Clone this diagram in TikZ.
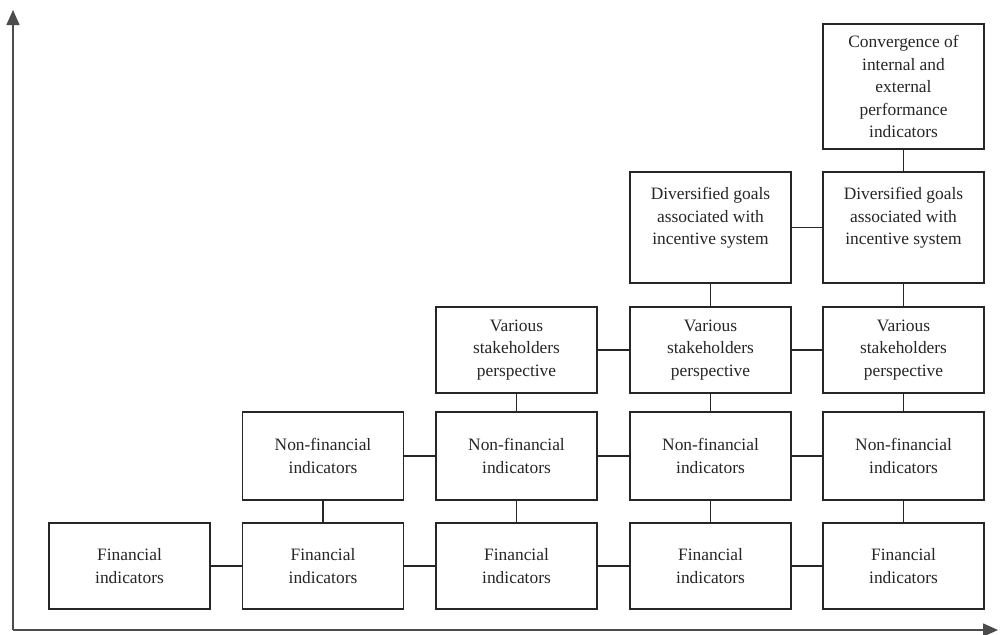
\documentclass[tikz,border=0pt]{standalone}
\usepackage{fontspec}
\setmainfont{Liberation Serif}
\usetikzlibrary{arrows.meta}
\begin{document}
\begin{tikzpicture}[x=0.5pt,y=-0.5pt,
  box/.style={draw=black!85,line width=0.8pt,fill=white,align=center,minimum width=80.5pt,inner sep=0pt,
    font=\fontsize{8.7}{11.25}\selectfont,text=black!85},
  fin/.style={box,minimum height=43pt},
  nfin/.style={box,minimum height=44pt},
  var/.style={box,minimum height=43pt},
  div/.style={box,minimum height=55.5pt},
  conv/.style={box,minimum height=62.5pt},
  link/.style={draw=black!85,line width=0.8pt},
  axis/.style={draw=black!70,line width=0.8pt,-{Triangle[length=7.5pt,width=6.5pt]}}]
\useasboundingbox (0,0) rectangle (1000,634);
% axes
\coordinate (o) at (13,630);
\coordinate (ytop) at (13,10);
\coordinate (xend) at (998,630);
\draw[axis] (o) -- (ytop);
\draw[axis] (o) -- (xend);
% row 1
\node[fin] (f1) at (129.5,566) {Financial\\indicators};
\node[fin] (f2) at (323,566) {Financial\\indicators};
\node[fin] (f3) at (516.5,566) {Financial\\indicators};
\node[fin] (f4) at (710.5,566) {Financial\\indicators};
\node[fin] (f5) at (903.5,566) {Financial\\indicators};
% row 2
\node[nfin] (n2) at (323,456) {Non-financial\\indicators};
\node[nfin] (n3) at (516.5,456) {Non-financial\\indicators};
\node[nfin] (n4) at (710.5,456) {Non-financial\\indicators};
\node[nfin] (n5) at (903.5,456) {Non-financial\\indicators};
% row 3
\node[var] (v3) at (516.5,350) {Various\\stakeholders\\perspective};
\node[var] (v4) at (710.5,350) {Various\\stakeholders\\perspective};
\node[var] (v5) at (903.5,350) {Various\\stakeholders\\perspective};
% row 4
\node[div] (d4) at (710.5,227.5) {Diversified goals\\associated with\\incentive system\\~};
\node[div] (d5) at (903.5,227.5) {Diversified goals\\associated with\\incentive system\\~};
% row 5
\node[conv] (c5) at (903.5,86.5) {Convergence of\\internal and\\external\\performance\\indicators};
% horizontal links
\draw[link] (f1) -- (f2);
\draw[link] (f2) -- (f3);
\draw[link] (f3) -- (f4);
\draw[link] (f4) -- (f5);
\draw[link] (n2) -- (n3);
\draw[link] (n3) -- (n4);
\draw[link] (n4) -- (n5);
\draw[link] (v3) -- (v4);
\draw[link] (v4) -- (v5);
\draw[link] (d4) -- (d5);
% vertical links
\draw[link] (f2) -- (n2);
\draw[link] (f3) -- (n3);
\draw[link] (n3) -- (v3);
\draw[link] (f4) -- (n4);
\draw[link] (n4) -- (v4);
\draw[link] (v4) -- (d4);
\draw[link] (f5) -- (n5);
\draw[link] (n5) -- (v5);
\draw[link] (v5) -- (d5);
\draw[link] (d5) -- (c5);
\end{tikzpicture}
\end{document}
